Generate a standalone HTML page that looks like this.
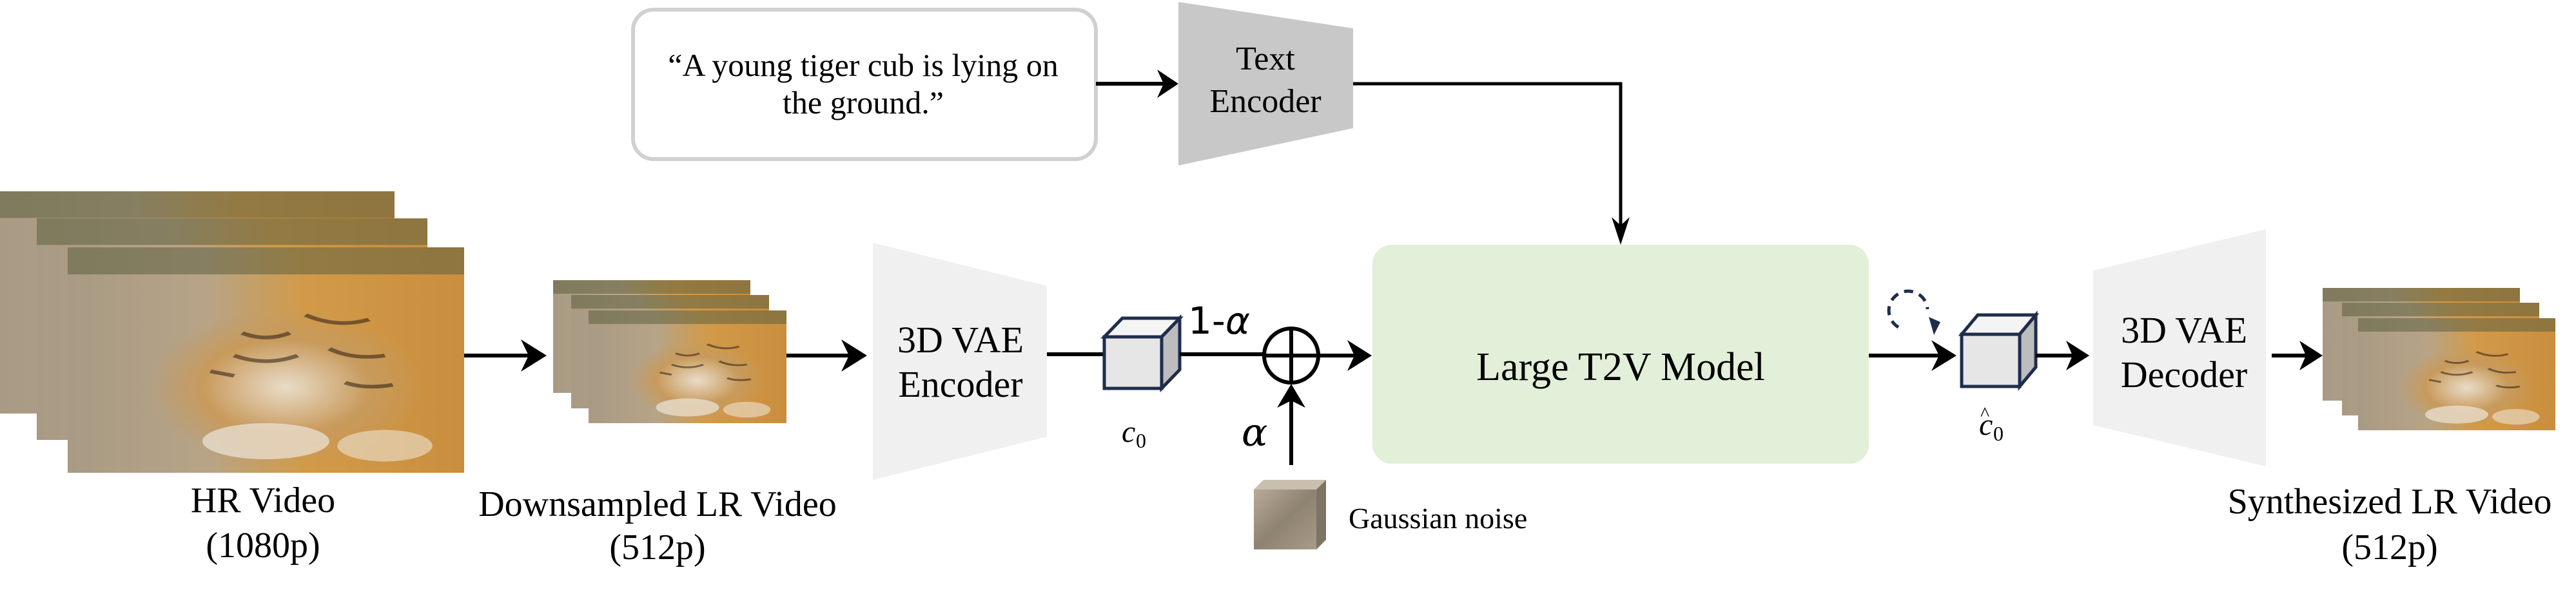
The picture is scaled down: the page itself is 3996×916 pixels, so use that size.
<!DOCTYPE html>
<html><head><meta charset="utf-8"><style>
html,body{margin:0;padding:0;background:#fff;}
svg{display:block;}
text{font-family:"Liberation Serif",serif;fill:#000;}
</style></head><body>
<svg width="3996" height="916" viewBox="0 0 3996 916" xmlns="http://www.w3.org/2000/svg">
<defs>
<linearGradient id="tig" x1="0" y1="0" x2="1" y2="0">
<stop offset="0" stop-color="#a89a84"/><stop offset="0.35" stop-color="#b7a487"/><stop offset="0.6" stop-color="#d29a48"/><stop offset="1" stop-color="#c98e3e"/>
</linearGradient>
<radialGradient id="face" cx="0.55" cy="0.62" r="0.35">
<stop offset="0" stop-color="#e9dcc8"/><stop offset="0.6" stop-color="#c89a5c"/><stop offset="1" stop-color="#c39a62" stop-opacity="0"/>
</radialGradient>
<linearGradient id="noise" x1="0" y1="0" x2="1" y2="1">
<stop offset="0" stop-color="#b8ab98"/><stop offset="0.5" stop-color="#8e8271"/><stop offset="1" stop-color="#a89c88"/>
</linearGradient>
<g id="frame"><rect width="100" height="100" fill="url(#tig)"/><rect width="100" height="100" fill="url(#face)"/>
<rect width="100" height="12" fill="#5e6040" opacity="0.55"/>
<g stroke="#2a1e12" stroke-width="1.6" opacity="0.55" fill="none">
<path d="M44 38 q6 4 12 0 M42 48 q8 5 16 0 M60 30 q8 6 16 2 M66 45 q6 5 14 3 M36 55 l6 2 M70 60 q5 3 12 1"/>
</g>
<ellipse cx="50" cy="86" rx="16" ry="8" fill="#ece6dc" opacity="0.7"/>
<ellipse cx="80" cy="88" rx="12" ry="7" fill="#ece2d2" opacity="0.6"/>
</g>
</defs>

<rect x="982" y="15" width="718" height="232" rx="32" fill="#fff" stroke="#d0d0d0" stroke-width="6"/>
<text x="1339" y="118" font-size="50" text-anchor="middle">“A young tiger cub is lying on</text>
<text x="1339" y="176" font-size="50" text-anchor="middle">the ground.”</text>

<polygon points="1828,3 2099,44 2099,199 1828,257" fill="#c8c8c8"/>
<text x="1963" y="108" font-size="52" text-anchor="middle">Text</text>
<text x="1963" y="174" font-size="52" text-anchor="middle">Encoder</text>

<line x1="1700" y1="130" x2="1815" y2="130" stroke="#000" stroke-width="6"/>
<polygon points="1828,130 1795,108 1805,130 1795,152" fill="#000"/>

<polyline points="2099,130 2514,130 2514,370" fill="none" stroke="#000" stroke-width="5"/>
<polygon points="2514,380 2500,337 2514,350 2528,337" fill="#000"/>

<rect x="2129" y="380" width="770" height="340" rx="30" fill="#e2efd9"/>
<text x="2514" y="590" font-size="62" text-anchor="middle">Large T2V Model</text>

<use href="#frame" transform="translate(0,297) scale(6.12,3.45)"/>
<use href="#frame" transform="translate(57,339) scale(6.06,3.44)"/>
<use href="#frame" transform="translate(105,384) scale(6.15,3.5)"/>
<text x="408" y="795" font-size="56" text-anchor="middle">HR Video</text>
<text x="408" y="865" font-size="56" text-anchor="middle">(1080p)</text>

<line x1="720" y1="552" x2="835" y2="552" stroke="#000" stroke-width="6"/>
<polygon points="848,552 808,527 820,552 808,577" fill="#000"/>

<use href="#frame" transform="translate(858,435) scale(3.06,1.75)"/>
<use href="#frame" transform="translate(886,458) scale(3.07,1.76)"/>
<use href="#frame" transform="translate(913,482) scale(3.07,1.75)"/>
<text x="1020" y="801" font-size="56" text-anchor="middle">Downsampled LR Video</text>
<text x="1020" y="868" font-size="56" text-anchor="middle">(512p)</text>

<line x1="1220" y1="552" x2="1332" y2="552" stroke="#000" stroke-width="6"/>
<polygon points="1345,552 1305,527 1317,552 1305,577" fill="#000"/>

<polygon points="1354,377 1624,444 1624,678 1354,745" fill="#f0f0f0"/>
<text x="1490" y="547" font-size="58" text-anchor="middle">3D VAE</text>
<text x="1490" y="616" font-size="58" text-anchor="middle">Encoder</text>

<line x1="1624" y1="550" x2="1713" y2="550" stroke="#000" stroke-width="6"/>

<polygon points="1713,523 1741,494 1830,494 1802,523" fill="#f4f4f4" stroke="#1f2d4d" stroke-width="5"/>
<polygon points="1802,523 1830,494 1830,574 1802,603" fill="#bdbdbd" stroke="#1f2d4d" stroke-width="5"/>
<rect x="1713" y="523" width="89" height="80" fill="#e6e6e6" stroke="#1f2d4d" stroke-width="5"/>
<text x="1740" y="686" font-size="48" font-style="italic">c</text>
<text x="1762" y="695" font-size="32">0</text>

<line x1="1830" y1="550" x2="1960" y2="550" stroke="#000" stroke-width="6"/>
<text x="1843" y="518" font-size="58" style="font-family:'DejaVu Sans',sans-serif">1-<tspan font-style="italic">α</tspan></text>

<circle cx="2003" cy="552" r="42" fill="#fff" stroke="#000" stroke-width="6"/>
<line x1="1961" y1="552" x2="2045" y2="552" stroke="#000" stroke-width="6"/>
<line x1="2003" y1="510" x2="2003" y2="594" stroke="#000" stroke-width="6"/>
<line x1="2045" y1="552" x2="2115" y2="552" stroke="#000" stroke-width="6"/>
<polygon points="2128,552 2090,528 2101,552 2090,576" fill="#000"/>

<line x1="2003" y1="722" x2="2003" y2="608" stroke="#000" stroke-width="6"/>
<polygon points="2003,596 1981,633 2003,622 2025,633" fill="#000"/>
<text x="1926" y="692" font-size="60" font-style="italic" style="font-family:'DejaVu Serif',serif">α</text>

<polygon points="1945,760 1960,745 2057,745 2042,760" fill="#c9bfae"/>
<polygon points="2042,760 2057,745 2057,838 2042,853" fill="#7e7466"/>
<rect x="1945" y="760" width="97" height="93" fill="url(#noise)"/>
<text x="2092" y="820" font-size="46">Gaussian noise</text>

<line x1="2899" y1="552" x2="3022" y2="552" stroke="#000" stroke-width="6"/>
<polygon points="3035,552 2996,528 3008,552 2996,576" fill="#000"/>

<path d="M 2945 508 A 30 30 0 1 1 2990 480" fill="none" stroke="#1f2d4d" stroke-width="5" stroke-dasharray="14,10"/>
<polygon points="3000,520 2992,492 3010,500" fill="#1f2d4d"/>

<polygon points="3043,519 3068,489 3158,489 3133,519" fill="#f4f4f4" stroke="#1f2d4d" stroke-width="5"/>
<polygon points="3133,519 3158,489 3158,570 3133,600" fill="#bdbdbd" stroke="#1f2d4d" stroke-width="5"/>
<rect x="3043" y="519" width="90" height="81" fill="#e6e6e6" stroke="#1f2d4d" stroke-width="5"/>
<text x="3070" y="675" font-size="48" font-style="italic">c</text>
<text x="3072" y="652" font-size="30">^</text>
<text x="3092" y="684" font-size="32">0</text>

<line x1="3158" y1="552" x2="3228" y2="552" stroke="#000" stroke-width="6"/>
<polygon points="3241,552 3205,529 3215,552 3205,575" fill="#000"/>

<polygon points="3247,420 3515,356 3515,724 3247,660" fill="#f0f0f0"/>
<text x="3388" y="532" font-size="58" text-anchor="middle">3D VAE</text>
<text x="3388" y="601" font-size="58" text-anchor="middle">Decoder</text>

<line x1="3524" y1="552" x2="3590" y2="552" stroke="#000" stroke-width="6"/>
<polygon points="3603,552 3567,529 3577,552 3567,575" fill="#000"/>

<use href="#frame" transform="translate(3603,447) scale(3.06,1.75)"/>
<use href="#frame" transform="translate(3633,470) scale(3.06,1.75)"/>
<use href="#frame" transform="translate(3658,494) scale(3.06,1.74)"/>
<text x="3707" y="797" font-size="56" text-anchor="middle">Synthesized LR Video</text>
<text x="3707" y="868" font-size="56" text-anchor="middle">(512p)</text>
</svg>
</body></html>
